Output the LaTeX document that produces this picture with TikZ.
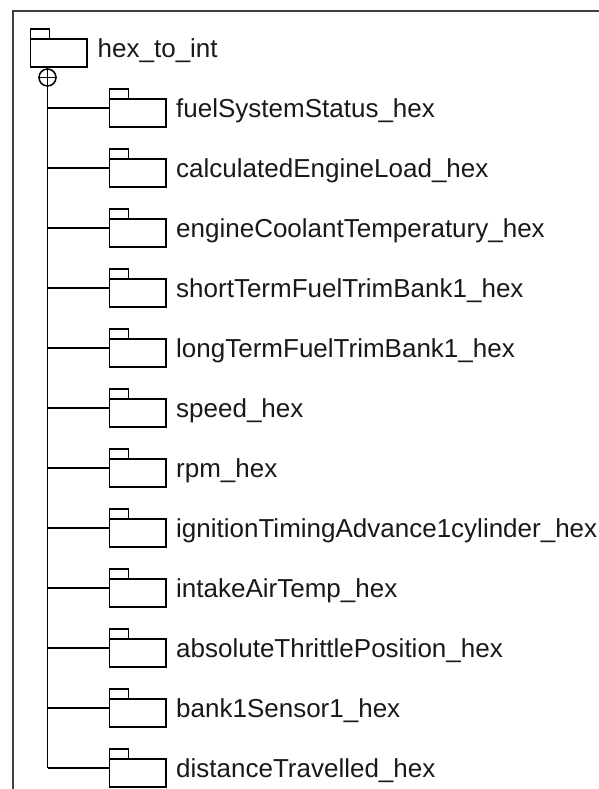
\documentclass[tikz,border=0pt]{standalone}
\usepackage{fontspec}
\setmainfont{Liberation Sans}
\begin{document}
\begin{tikzpicture}[
        x=1pt, y=-1pt,
        pkg/.style={rectangle, draw, line width=1.8pt, minimum width=56.5pt, minimum height=27.7pt, inner sep=0pt, outer sep=0pt, anchor=north west},
        tab/.style={rectangle, draw, line width=1.8pt, minimum width=19pt, minimum height=9.7pt, inner sep=0pt, outer sep=0pt, anchor=south west},
        lbl/.style={anchor=base west, inner sep=0pt, font=\fontsize{26}{30}\selectfont, black!90},
        link/.style={line width=1.8pt},
        border/.style={line width=2pt, black!75}
        ]
      \useasboundingbox (0,0) rectangle (598,789);
      \draw[border] (600,11) -| (12.5,791);

      % root package
      \node[pkg] (root) at (30.5,39) {};
      \node[tab] (troot) at (root.north west) {};
      \node[lbl] (lroot) at (97.5,57.3) {hex\_to\_int};
      \node[circle, draw, line width=1.5pt, minimum size=17pt, inner sep=0pt] (plus) at (47.5,77.5) {};
      \draw[line width=1.5pt] (plus.north) -- (plus.south) (plus.west) -- (plus.east);

      % children
      \coordinate (b1) at (47.5,108.3);
      \coordinate (b2) at (47.5,168.3);
      \coordinate (b3) at (47.5,228.3);
      \coordinate (b4) at (47.5,288.3);
      \coordinate (b5) at (47.5,348.3);
      \coordinate (b6) at (47.5,408.3);
      \coordinate (b7) at (47.5,468.3);
      \coordinate (b8) at (47.5,528.3);
      \coordinate (b9) at (47.5,588.3);
      \coordinate (b10) at (47.5,648.3);
      \coordinate (b11) at (47.5,708.3);
      \coordinate (b12) at (47.5,768.3);

      \node[pkg] (p1) at (109.5,99) {};
      \node[pkg] (p2) at (109.5,159) {};
      \node[pkg] (p3) at (109.5,219) {};
      \node[pkg] (p4) at (109.5,279) {};
      \node[pkg] (p5) at (109.5,339) {};
      \node[pkg] (p6) at (109.5,399) {};
      \node[pkg] (p7) at (109.5,459) {};
      \node[pkg] (p8) at (109.5,519) {};
      \node[pkg] (p9) at (109.5,579) {};
      \node[pkg] (p10) at (109.5,639) {};
      \node[pkg] (p11) at (109.5,699) {};
      \node[pkg] (p12) at (109.5,759) {};

      \node[tab] (t1) at (p1.north west) {};
      \node[tab] (t2) at (p2.north west) {};
      \node[tab] (t3) at (p3.north west) {};
      \node[tab] (t4) at (p4.north west) {};
      \node[tab] (t5) at (p5.north west) {};
      \node[tab] (t6) at (p6.north west) {};
      \node[tab] (t7) at (p7.north west) {};
      \node[tab] (t8) at (p8.north west) {};
      \node[tab] (t9) at (p9.north west) {};
      \node[tab] (t10) at (p10.north west) {};
      \node[tab] (t11) at (p11.north west) {};
      \node[tab] (t12) at (p12.north west) {};

      \node[lbl] (l1) at (176,117.6) {fuelSystemStatus\_hex};
      \node[lbl] (l2) at (176,177.6) {calculatedEngineLoad\_hex};
      \node[lbl] (l3) at (176,237.6) {engineCoolantTemperatury\_hex};
      \node[lbl] (l4) at (176,297.6) {shortTermFuelTrimBank1\_hex};
      \node[lbl] (l5) at (176,357.6) {longTermFuelTrimBank1\_hex};
      \node[lbl] (l6) at (176,417.6) {speed\_hex};
      \node[lbl] (l7) at (176,477.6) {rpm\_hex};
      \node[lbl] (l8) at (176,537.6) {ignitionTimingAdvance1cylinder\_hex};
      \node[lbl] (l9) at (176,597.6) {intakeAirTemp\_hex};
      \node[lbl] (l10) at (176,657.6) {absoluteThrittlePosition\_hex};
      \node[lbl] (l11) at (176,717.6) {bank1Sensor1\_hex};
      \node[lbl] (l12) at (176,777.6) {distanceTravelled\_hex};

      \draw[link] (plus) -- (b12);
      \draw[link] (b1) -- (b1 -| p1.west);
      \draw[link] (b2) -- (b2 -| p2.west);
      \draw[link] (b3) -- (b3 -| p3.west);
      \draw[link] (b4) -- (b4 -| p4.west);
      \draw[link] (b5) -- (b5 -| p5.west);
      \draw[link] (b6) -- (b6 -| p6.west);
      \draw[link] (b7) -- (b7 -| p7.west);
      \draw[link] (b8) -- (b8 -| p8.west);
      \draw[link] (b9) -- (b9 -| p9.west);
      \draw[link] (b10) -- (b10 -| p10.west);
      \draw[link] (b11) -- (b11 -| p11.west);
      \draw[link] (b12) -- (b12 -| p12.west);

    \end{tikzpicture}
\end{document}
